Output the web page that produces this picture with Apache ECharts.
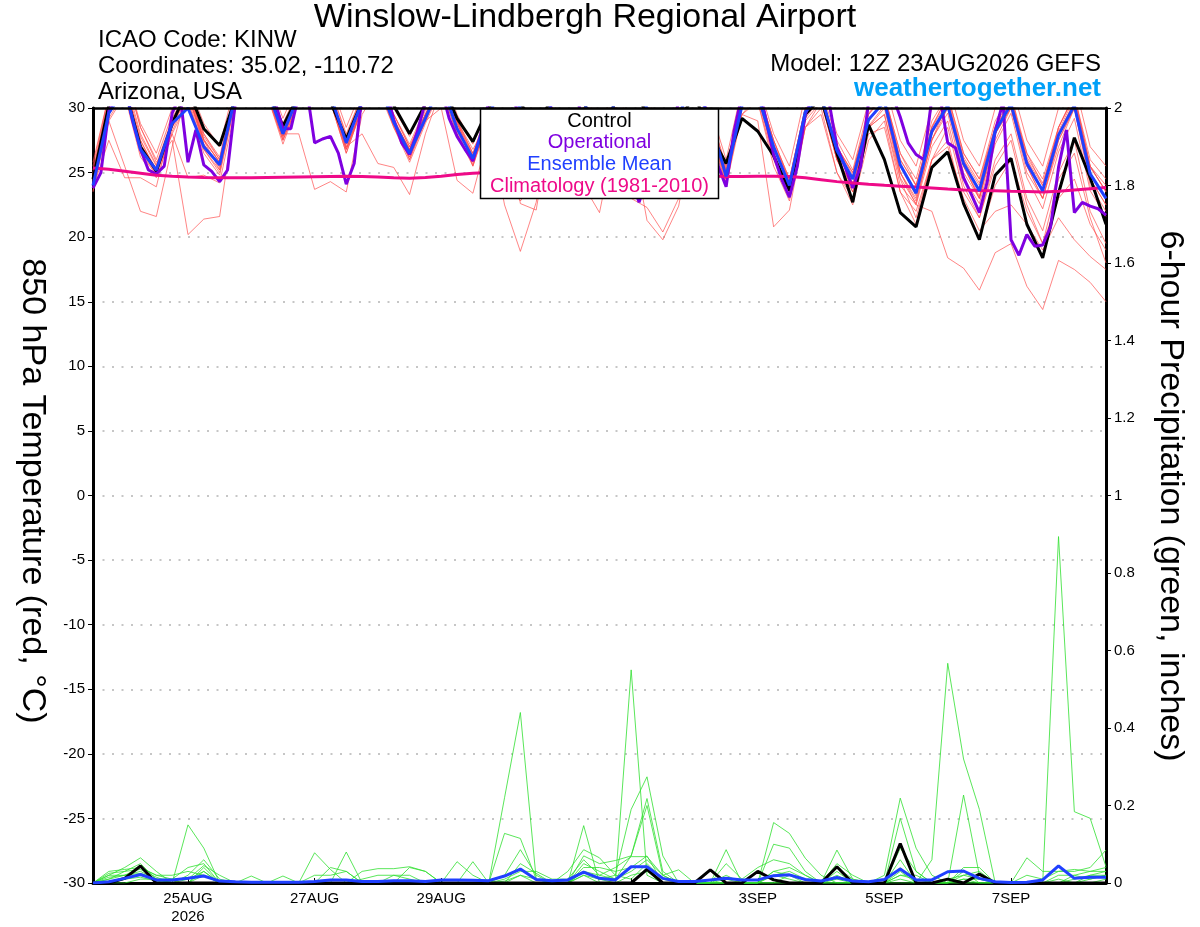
<!DOCTYPE html>
<html><head><meta charset="utf-8">
<script src="https://cdn.jsdelivr.net/npm/echarts@6/dist/echarts.min.js"></script>
<style>html,body{margin:0;padding:0;background:#fff}#c{width:1200px;height:927px}</style>
</head><body><div id="c"></div>
<script>
// x axis: 3-hourly steps from 12Z 23AUG2026 (129 steps); 6-hourly series use every other step
const tickIndex = [12, 28, 44, 68, 84, 100, 116];
const tickText = ['25AUG\n2026', '27AUG', '29AUG', '1SEP', '3SEP', '5SEP', '7SEP'];

// 850 hPa temperature (C), 6-hourly
const tControl = [24.5,30.2,31.5,27.0,25.1,28.8,31.5,28.4,27.1,30.8, 32.5,31.5,28.6,31.0,32.0,30.5,27.6,30.5,32.0,30.2, 28.0,30.3,32.0,29.2,27.4,30.0,32.5,30.5,28.0,31.0, 32.5,30.5,27.5,30.5,32.0,29.5,26.5,29.0,31.0,28.0, 25.7,29.2,28.2,26.3,23.6,29.5,30.8,26.5,22.7,28.7, 26.0,21.9,20.8,25.4,26.6,22.6,19.8,24.8,26.1,21.0, 18.4,23.4,27.7,24.6,21.0];
const tMean = [24.0,29.6,31.5,26.8,25.2,28.8,30.0,27.0,25.6,31.0, 32.5,31.5,28.0,31.0,32.0,31.0,27.3,30.5,32.0,28.9, 26.5,29.2,32.0,28.4,26.1,29.5,32.0,30.0,27.0,30.5, 32.5,30.5,27.5,30.5,32.0,30.0,26.5,29.5,32.0,29.0, 24.7,30.2,31.0,27.0,24.0,29.7,31.0,26.7,24.5,29.1, 30.5,25.6,23.4,28.2,30.2,25.7,23.6,28.2,30.3,25.7, 23.6,27.9,30.2,24.9,23.0];
const tClim = [25.35,25.25,25.1,24.95,24.8,24.72,24.66,24.62,24.6,24.6, 24.6,24.62,24.64,24.66,24.68,24.7,24.72,24.7,24.66,24.6, 24.56,24.62,24.72,24.85,24.95,25.0,25.03,25.05,25.05,25.04, 25.02,25.0,24.98,24.95,24.92,24.88,24.84,24.8,24.76,24.73, 24.7,24.7,24.72,24.72,24.7,24.6,24.45,24.3,24.2,24.1, 24.02,23.95,23.88,23.8,23.72,23.66,23.62,23.6,23.56,23.53, 23.5,23.55,23.65,23.75,23.85];
// operational run, 3-hourly
const tOper = [23.8,25.0,29.8,31.0,32.0,29.0,26.8,25.2,24.9,25.5, 29.6,31.0,25.8,28.3,25.6,25.1,24.3,25.2,30.5,31.5, 32.5,32.5,31.5,30.5,28.4,28.4,31.0,31.5,27.3,27.6, 27.8,26.5,24.1,25.7,31.0,32.0,32.5,31.5,29.1,27.3, 26.4,28.2,30.5,31.5,31.5,29.2,27.8,26.8,25.9,28.0, 30.5,31.5,32.0,31.0,29.0,27.5,26.5,28.0,30.5,31.5, 32.0,31.0,29.0,27.0,26.0,27.5,29.5,27.0,24.5,22.7, 24.5,27.0,26.0,28.0,30.5,31.5,32.0,31.0,28.5,25.5, 23.9,28.2,31.0,32.0,32.0,29.2,26.4,24.5,23.1,25.5, 29.5,31.0,32.0,30.5,27.0,25.5,23.8,25.5,30.5,31.5, 32.0,31.0,29.3,27.3,26.4,26.0,30.8,31.0,27.3,26.9, 24.6,23.3,21.9,24.3,28.2,30.5,19.8,18.6,20.2,19.3, 19.4,20.8,25.4,28.3,21.9,22.7,22.4,22.2,21.7];
// ensemble members, 6-hourly
const tMem1 = [24.2,29.0,25.5,22.0,21.6, 27.0,31.5,27.5,25.2, 31.0,32.5,31.0,27.5, 30.5,32.0,30.5,26.8, 30.0,32.0,29.0,26.0, 29.5,32.0,29.0,25.5, 29.5,32.0,29.5,26.5, 30.5,32.5,30.0,27.0, 30.0,32.0,29.5,26.0, 29.0,31.5,28.5,24.5, 30.0,31.0,26.5,23.5, 29.5,30.5,26.0,23.5, 28.5,29.5,24.0,22.5, 22.0,18.4,17.6,15.9, 18.8,19.5,16.2,14.4, 18.2,17.5,16.5,15.0];
const tMem2 = [25.0,31.0,33.0,28.5,25.8, 27.5,20.2,21.4,21.6, 30.0,32.5,31.0,28.5, 31.0,32.5,31.0,27.5, 30.5,32.0,29.5,27.0, 29.5,32.0,29.0,26.5, 29.0,22.5,18.9,22.7, 30.0,32.5,30.5,27.5, 30.5,32.0,30.0,27.0, 30.0,32.0,29.5,25.5, 30.5,31.5,27.5,24.5, 30.0,31.0,27.0,25.0, 29.5,31.0,26.5,24.0, 28.5,31.0,26.5,24.5, 28.5,30.5,26.5,24.0, 28.5,31.0,25.5,23.5];
const tMem3 = [23.8,27.5,24.6,24.6,23.9, 29.0,31.5,28.0,26.0, 31.5,33.0,31.5,28.2, 31.0,32.0,31.0,27.0, 30.0,32.0,28.5,26.2, 29.0,31.5,28.0,25.8, 29.5,31.5,29.5,26.5, 30.0,32.0,29.0,26.5, 29.0,28.0,21.3,19.8, 22.4,29.0,28.0,24.0, 29.5,31.0,27.0,24.0, 29.5,31.0,26.5,24.5, 29.0,30.5,25.5,23.5, 28.0,30.5,25.5,23.0, 28.0,30.0,25.0,23.0, 27.5,30.0,24.5,22.5];
const tMem4 = [24.5,29.5,31.5,27.5,25.0, 28.0,24.6,24.8,24.2, 30.0,32.0,31.0,27.8, 30.5,32.0,30.5,26.5, 30.0,31.5,29.0,26.8, 29.5,32.0,28.5,25.8, 29.0,31.5,30.0,27.0, 30.0,32.0,30.0,27.5, 29.5,23.0,22.3,20.4, 23.0,30.0,28.5,24.5, 30.0,31.0,26.5,23.5, 29.0,30.5,26.0,24.0, 28.5,30.0,25.0,23.0, 27.5,30.0,25.0,23.0, 27.5,30.0,25.5,23.0, 27.0,30.0,24.0,22.0];
const tMem5 = [25.2,30.5,32.0,27.8,25.5, 29.0,31.0,27.5,25.8, 31.0,32.5,31.0,28.0, 28.0,23.7,24.3,23.5, 29.5,31.5,29.0,26.8, 29.5,32.0,28.8,26.3, 29.5,32.0,30.0,27.0, 30.5,32.5,30.5,27.5, 30.5,32.0,30.0,26.5, 29.5,31.5,28.5,24.8, 29.5,29.0,20.8,22.1, 28.5,30.5,26.5,24.5, 29.0,30.5,25.5,23.5, 28.0,30.5,26.0,23.5, 28.0,30.5,25.5,23.5, 28.0,30.5,25.0,23.0];
const tMem6 = [24.8,30.0,32.0,27.2,25.3, 28.5,31.5,27.2,25.5, 31.0,32.5,31.5,27.8, 31.0,32.0,31.0,27.0, 28.0,25.7,25.4,23.3, 28.0,31.5,28.5,26.0, 29.5,32.0,29.5,26.5, 29.5,28.0,24.0,21.9, 28.0,32.0,30.0,26.5, 29.5,32.0,29.0,25.0, 30.5,31.5,27.5,24.3, 30.0,31.0,27.0,24.8, 29.5,31.0,26.0,24.0, 28.5,30.5,26.0,24.0, 28.5,30.5,26.0,24.0, 28.0,30.5,25.5,23.5];
const tMem7 = [24.0,29.5,31.5,26.5,24.8, 28.5,30.5,26.8,25.0, 30.5,32.0,31.0,27.5, 30.5,32.0,30.5,26.8, 30.0,32.0,28.8,26.0, 29.0,30.0,24.4,23.4, 28.0,30.0,22.6,22.1, 29.5,32.0,30.0,27.0, 30.0,32.0,29.5,26.0, 29.0,31.5,28.5,24.2, 30.0,31.0,26.8,23.8, 29.5,31.0,26.5,24.2, 29.0,30.5,25.5,23.2, 28.0,30.0,25.5,23.2, 28.0,30.0,25.5,23.0, 27.5,30.0,24.5,22.5];
const tMem8 = [25.5,31.0,33.0,28.5,26.0, 29.5,31.5,28.0,26.2, 31.5,33.0,32.0,28.5, 31.5,32.5,31.5,28.0, 31.0,32.5,29.5,27.2, 30.0,32.5,29.0,26.8, 29.0,24.5,22.8,24.5, 30.0,32.0,30.0,27.5, 30.5,32.0,30.0,27.0, 29.5,31.5,29.0,25.0, 30.0,30.5,26.0,23.0, 28.5,29.5,25.0,23.0, 28.0,28.5,23.5,22.0, 26.0,27.0,23.0,20.5, 22.0,22.5,21.0,19.0, 21.5,19.8,18.5,17.5];
const tMem9 = [24.3,30.0,32.0,27.0,25.0, 28.8,31.0,27.2,25.4, 31.0,32.5,31.5,27.8, 31.0,32.0,31.0,27.2, 30.5,32.0,29.0,26.5, 29.0,32.0,28.5,26.0, 29.5,32.0,30.0,27.0, 30.5,32.5,30.5,27.5, 30.5,32.0,30.0,26.5, 29.5,32.0,29.0,24.8, 30.5,31.0,27.0,24.0, 29.5,31.0,27.0,24.5, 29.0,30.5,25.0,22.5, 27.0,29.0,24.0,21.5, 26.0,28.0,23.0,20.5, 25.0,27.5,22.0,19.5];
const tMem10 = [23.6,29.0,31.0,26.2,24.6, 28.0,30.5,26.5,24.8, 30.5,32.0,31.0,27.2, 30.5,31.5,30.5,26.5, 30.0,31.5,28.5,25.8, 28.8,31.5,28.0,25.5, 29.0,31.5,29.5,26.5, 30.0,32.0,30.0,27.0, 30.0,31.5,29.5,25.8, 29.0,31.5,28.5,24.0, 30.0,31.0,26.5,23.2, 29.5,31.0,26.0,23.8, 29.0,30.5,25.0,22.8, 27.5,30.5,25.5,23.0, 28.0,31.0,26.0,23.5, 28.5,31.0,25.5,24.0];
const tMem11 = [24.6,30.5,32.5,28.0,25.6, 29.2,31.5,27.8,26.0, 31.5,33.0,32.0,28.8, 31.5,32.5,31.5,27.8, 31.0,32.5,29.5,27.0, 29.8,32.5,29.0,26.5, 30.0,32.5,30.5,27.5, 31.0,33.0,31.0,28.0, 31.0,32.5,30.5,27.0, 30.0,32.5,29.5,25.3, 31.0,31.5,27.5,24.5, 30.0,31.5,27.5,25.2, 30.0,31.0,26.5,24.5, 29.0,31.0,26.5,24.5, 29.0,31.0,26.5,24.5, 28.5,31.0,26.0,24.5];
const tMem12 = [24.9,30.0,32.0,27.5,25.2, 28.5,31.0,27.5,25.8, 31.0,32.5,31.5,28.0, 31.0,32.0,31.0,27.5, 30.5,32.0,29.2,26.6, 29.5,32.0,28.5,26.2, 29.5,32.0,30.0,27.0, 30.5,32.5,30.5,27.5, 30.5,32.0,29.5,26.0, 29.0,31.5,28.5,24.5, 29.5,30.5,25.5,22.8, 28.5,30.0,25.0,22.5, 27.5,29.0,23.5,21.0, 26.0,28.5,23.5,21.5, 25.5,27.5,22.5,19.5, 24.5,26.5,21.5,18.0];
const tMem13 = [24.4,29.8,31.8,27.0,25.1, 28.6,31.2,27.0,25.6, 31.2,32.8,31.8,28.2, 31.2,32.2,31.2,27.4, 30.8,32.2,29.2,26.8, 29.4,32.2,28.6,26.2, 29.6,32.2,30.2,27.2, 30.6,32.6,30.6,27.6, 30.6,32.2,30.2,26.8, 29.6,32.2,29.2,25.2, 30.6,31.2,27.2,24.4, 30.0,31.2,27.0,25.0, 29.6,31.0,26.0,24.0, 28.6,30.8,26.2,24.2, 28.6,30.8,26.2,24.2, 28.2,30.8,25.4,23.6];
const tMem14 = [25.8,31.0,33.0,28.8,26.5, 30.0,32.0,28.8,27.0, 32.0,33.5,32.5,29.2, 32.0,33.0,32.0,28.5, 31.5,33.0,30.0,27.8, 30.5,33.0,29.5,27.2, 30.5,33.0,31.0,28.0, 31.5,33.5,31.5,28.5, 31.5,33.0,31.0,27.5, 30.5,33.0,30.0,26.0, 31.5,32.0,28.0,25.5, 31.0,32.0,28.0,26.0, 30.5,32.0,27.5,25.5, 30.0,32.0,27.5,25.5, 30.0,32.0,27.5,25.5, 30.0,32.0,27.0,25.5];
const tMem15 = [23.5,29.2,31.2,26.6,24.9, 28.2,30.8,26.8,25.2, 30.8,32.2,31.2,27.6, 30.8,31.8,30.8,26.8, 30.2,31.8,28.6,26.2, 29.2,31.8,28.2,25.6, 29.2,31.8,29.8,26.8, 30.2,32.2,30.2,27.2, 30.2,31.8,29.8,26.2, 29.2,31.8,28.8,24.6, 30.2,30.8,26.2,23.6, 29.2,30.8,26.2,23.8, 28.6,30.2,24.6,22.6, 27.6,29.6,24.6,22.6, 27.2,29.6,24.6,22.2, 26.6,29.2,23.6,21.6];
const tMem16 = [24.1,29.6,31.6,27.0,25.3, 29.0,31.5,27.6,25.8, 31.0,32.5,31.5,28.0, 31.0,32.0,31.0,27.2, 30.5,32.0,29.0,26.8, 29.5,32.0,28.8,26.4, 29.5,32.0,30.0,27.0, 30.5,32.5,30.5,27.5, 30.5,32.0,30.0,26.8, 29.5,32.0,29.0,25.0, 30.5,31.0,27.0,24.2, 29.5,30.5,26.0,23.5, 28.5,29.5,24.5,21.5, 26.0,27.5,22.5,20.0, 24.0,26.0,22.0,19.5, 23.0,24.5,21.0,19.0];

// 6-hour precipitation (inches), 6-hourly
const pControl = [0,0,0.012,0.044,0,0,0,0,0,0, 0,0,0,0,0,0,0,0,0,0, 0,0,0,0,0,0,0,0,0,0, 0,0,0,0,0,0.035,0,0,0,0.034, 0,0,0.03,0.008,0,0,0,0.042,0,0, 0,0.102,0,0,0.01,0,0.023,0,0,0, 0,0,0,0,0];
const pMean = [0,0.003,0.012,0.022,0.008,0.008,0.012,0.018,0.005,0.003, 0.002,0.002,0.002,0.002,0.004,0.008,0.008,0.004,0.004,0.006, 0.006,0.004,0.008,0.008,0.007,0.006,0.018,0.036,0.009,0.006, 0.008,0.028,0.012,0.008,0.042,0.042,0.012,0.004,0.004,0.008, 0.012,0.008,0.008,0.019,0.021,0.009,0.005,0.014,0.005,0.003, 0.009,0.036,0.008,0.008,0.029,0.031,0.012,0.003,0.001,0.002, 0.008,0.044,0.012,0.015,0.015];
const pMem1 = [0,0.02,0.04,0.065,0.03,0,0,0,0,0, 0,0,0,0,0.078,0.035,0,0,0,0, 0,0,0,0,0,0,0.22,0.44,0.01,0, 0,0.02,0,0,0.02,0.03,0,0,0,0, 0,0,0,0.156,0.128,0.064,0.02,0,0,0, 0,0.167,0.03,0,0,0,0,0,0,0.065, 0.03,0.03,0.035,0.03,0.03];
const pMem2 = [0,0.01,0.03,0.05,0.01,0,0.15,0.09,0,0, 0,0,0.018,0,0,0,0.08,0,0,0, 0,0,0,0.055,0.02,0,0,0.05,0.025,0, 0,0.148,0,0,0.55,0.02,0,0,0,0, 0.086,0,0,0,0,0,0,0.085,0.01,0, 0,0,0,0.06,0.567,0.32,0.19,0,0,0, 0,0,0,0.01,0.02];
const pMem3 = [0,0.03,0.035,0.04,0.02,0.01,0.04,0.05,0,0, 0.018,0,0,0,0,0.04,0.03,0,0,0, 0.04,0.03,0,0,0.055,0,0.128,0.115,0.01,0, 0.03,0.086,0.065,0.02,0.19,0.274,0.07,0,0,0, 0,0,0,0.1,0.09,0.03,0,0,0,0, 0.02,0.219,0.09,0.02,0,0.227,0.02,0,0,0, 0,0.894,0.184,0.167,0.042];
const pMem4 = [0,0.025,0.03,0.035,0.015,0,0.02,0.06,0.01,0, 0,0,0,0,0,0,0,0.03,0.037,0.037, 0.042,0.03,0,0,0,0,0.02,0.086,0.02,0, 0,0.07,0.05,0.058,0.07,0.218,0.03,0,0,0, 0.05,0.01,0.04,0.06,0.05,0.02,0,0.05,0.02,0, 0,0.09,0.03,0,0,0.04,0.04,0,0,0.02, 0.01,0.03,0.03,0.04,0.085];
const pMem5 = [0,0.02,0.02,0.03,0.01,0.01,0.01,0.045,0.02,0, 0,0,0,0,0.02,0.02,0.03,0,0,0.02, 0.02,0,0,0,0,0,0.01,0.03,0.03,0.01, 0.01,0.06,0.02,0.01,0.07,0.2,0.02,0.034,0,0, 0.02,0,0,0.03,0.02,0.01,0,0.04,0.01,0, 0,0.06,0,0,0.01,0.02,0.01,0,0,0, 0,0.02,0.02,0.01,0.02];
const pMem6 = [0,0.01,0.02,0.04,0.02,0.02,0.03,0.02,0,0, 0,0,0,0,0,0,0,0,0,0, 0,0,0,0,0,0,0,0,0,0, 0,0.03,0.02,0.04,0.068,0.068,0.02,0,0,0, 0,0,0,0,0,0,0,0,0,0, 0,0.03,0,0,0,0.03,0,0,0,0, 0,0,0,0.02,0.03];
const pMem7 = [0,0,0.01,0.02,0.01,0,0,0.03,0,0, 0,0,0,0,0,0,0,0,0,0, 0,0,0,0,0,0,0,0.02,0.01,0, 0,0.05,0.03,0.01,0.03,0.06,0.02,0,0,0, 0.01,0,0,0.03,0.04,0.02,0,0.02,0,0, 0,0.02,0.02,0,0,0.01,0,0,0,0, 0,0.01,0,0,0.01];
const pMem8 = [0,0.015,0.02,0.025,0.01,0,0,0.04,0,0, 0,0,0,0,0,0,0,0.01,0.02,0.02, 0.01,0,0,0,0,0,0,0,0,0, 0,0.04,0.04,0.03,0.04,0.07,0,0,0,0, 0,0,0,0.02,0.03,0.01,0,0.03,0,0, 0,0.04,0,0,0,0.02,0.03,0,0,0, 0,0,0.02,0.03,0.04];
const pMem9 = [0,0,0,0.01,0.01,0,0,0.02,0,0, 0,0,0,0,0,0,0,0,0,0, 0,0,0,0,0,0,0,0,0,0, 0,0.02,0.01,0,0,0.04,0,0,0,0, 0,0,0,0,0.02,0,0,0,0,0, 0,0.01,0,0,0,0,0,0,0,0, 0,0,0,0,0];
const pMem10 = [0,0.005,0.01,0.015,0.005,0,0.01,0.03,0,0, 0,0,0,0,0,0,0,0,0,0, 0,0,0,0,0,0,0.005,0.02,0,0, 0,0.03,0.01,0.02,0.01,0.05,0.01,0,0,0, 0,0,0,0.02,0.01,0,0,0.01,0,0, 0,0.02,0.01,0,0,0.01,0.01,0,0,0, 0,0,0.01,0.02,0.02];

const tMembers = [tMem1,tMem2,tMem3,tMem4,tMem5,tMem6,tMem7,tMem8,tMem9,tMem10,tMem11,tMem12,tMem13,tMem14,tMem15,tMem16];
const pMembers = [pMem1,pMem2,pMem3,pMem4,pMem5,pMem6,pMem7,pMem8,pMem9,pMem10];

const FONT = "'Liberation Sans', Arial, Helvetica, sans-serif";
const nSteps = tOper.length; // 129 three-hour steps
const categories = [];
for (let k = 0; k < nSteps; k++) categories.push('h' + (k * 3));
const six = arr => arr.map((v, i) => [2 * i, v]);
const three = arr => arr.map((v, j) => [j, v]);
const isTick = (idx) => tickIndex.indexOf(idx) >= 0;

const series = [];
tMembers.forEach(m => series.push({type:'line', data: six(m), yAxisIndex:0, symbol:'none', silent:true, z:2,
  lineStyle:{color:'#ff4a4a', width:0.8, opacity:0.85}}));
pMembers.forEach(m => series.push({type:'line', data: six(m), yAxisIndex:1, symbol:'none', silent:true, z:2,
  lineStyle:{color:'#30e030', width:0.8}}));
series.push({type:'line', data: six(pControl), yAxisIndex:1, symbol:'none', z:4, lineStyle:{color:'#000', width:3}});
series.push({type:'line', data: six(pMean), yAxisIndex:1, symbol:'none', z:5, lineStyle:{color:'#2040ff', width:3}});
series.push({type:'line', data: six(tControl), yAxisIndex:0, symbol:'none', z:4, lineStyle:{color:'#000', width:3}});
series.push({type:'line', data: three(tOper), yAxisIndex:0, symbol:'none', z:4, lineStyle:{color:'#7f00e0', width:3}});
series.push({type:'line', data: six(tClim), yAxisIndex:0, symbol:'none', z:5, lineStyle:{color:'#ee0a88', width:3}});
series.push({type:'line', data: six(tMean), yAxisIndex:0, symbol:'none', z:6, lineStyle:{color:'#2040ff', width:3}});

const txt = (x, y, text, font, fill, align, rot) => ({
  type:'text', x, y, rotation: rot || 0, z: 120, silent: true,
  style:{text, font, fill: fill || '#000', textAlign: align || 'left', align: align || 'left',
         textVerticalAlign:'middle', verticalAlign:'middle'}
});

const chart = echarts.init(document.getElementById('c'), null, {renderer:'canvas'});
chart.setOption({
  animation:false,
  backgroundColor:'#fff',
  grid:{left:93, right:94, top:108, bottom:44, show:false},
  xAxis:{
    type:'category', data:categories, boundaryGap:false,
    axisLine:{onZero:false, lineStyle:{color:'#000', width:3}},
    axisTick:{show:true, inside:true, length:5, interval:(idx)=>isTick(idx), lineStyle:{color:'#000', width:1}},
    axisLabel:{interval:(idx)=>isTick(idx), formatter:(v, idx)=>{ const k = tickIndex.indexOf(idx); return k >= 0 ? tickText[k] : ''; },
      color:'#000', fontSize:15, fontFamily:FONT, margin:7, lineHeight:18},
    splitLine:{show:false}
  },
  yAxis:[
    {type:'value', min:-30, max:30, interval:5, position:'left',
     axisLine:{show:true, lineStyle:{color:'#000', width:3}},
     axisTick:{show:true, inside:false, length:5, lineStyle:{color:'#000', width:1}},
     axisLabel:{color:'#000', fontSize:15, fontFamily:FONT, margin:8},
     splitLine:{show:true, lineStyle:{color:'#b4b4b4', width:1.5, type:[2,7.5]}}},
    {type:'value', min:0, max:2, interval:0.2, position:'right',
     axisLine:{show:true, lineStyle:{color:'#000', width:3}},
     axisTick:{show:true, inside:false, length:5, lineStyle:{color:'#000', width:1}},
     axisLabel:{color:'#000', fontSize:15, fontFamily:FONT, margin:8},
     splitLine:{show:false}}
  ],
  graphic:[
    {type:'line', z:115, silent:true, shape:{x1:92, y1:108.5, x2:1107, y2:108.5}, style:{stroke:'#000', lineWidth:2.5}},
    txt(585, 18, 'Winslow-Lindbergh Regional Airport', '34px ' + FONT, '#000', 'center'),
    txt(98, 40, 'ICAO Code: KINW', '24px ' + FONT),
    txt(98, 66, 'Coordinates: 35.02, -110.72', '24px ' + FONT),
    txt(98, 92, 'Arizona, USA', '24px ' + FONT),
    txt(1101, 64, 'Model: 12Z 23AUG2026 GEFS', '24px ' + FONT, '#000', 'right'),
    txt(1101, 89, 'weathertogether.net', 'bold 26px ' + FONT, '#00a0f8', 'right'),
    txt(32, 491, '850 hPa Temperature (red, \u00B0C)', '34px ' + FONT, '#000', 'center', -Math.PI/2),
    txt(1170, 496, '6-hour Precipitation (green, inches)', '34px ' + FONT, '#000', 'center', -Math.PI/2),
    {type:'rect', z:110, silent:true, shape:{x:480.5, y:108.5, width:238, height:90}, style:{fill:'#fff', stroke:'#000', lineWidth:1.5}},
    txt(599.5, 121, 'Control', '20px ' + FONT, '#000', 'center'),
    txt(599.5, 142, 'Operational', '20px ' + FONT, '#7f00e0', 'center'),
    txt(599.5, 164, 'Ensemble Mean', '20px ' + FONT, '#2040ff', 'center'),
    txt(599.5, 186, 'Climatology (1981-2010)', '20px ' + FONT, '#ee0a88', 'center')
  ],
  series
});
</script>
</body></html>
